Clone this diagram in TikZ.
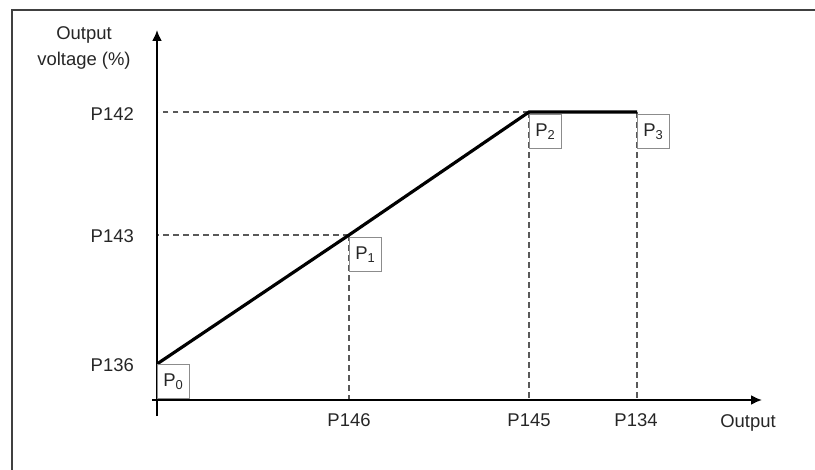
\documentclass[tikz,border=0pt]{standalone}
\usepackage{fontspec}
\setmainfont{Liberation Sans}
\usepackage{xcolor}
\usetikzlibrary{arrows.meta}
\definecolor{mytext}{gray}{0.15}
\definecolor{mygray}{gray}{0.35}
\definecolor{myboxgray}{gray}{0.55}
\definecolor{myframe}{gray}{0.25}
\begin{document}
\begin{tikzpicture}[x=0.02cm,y=-0.02cm,
every node/.style={text=mytext,font=\fontsize{10.5}{15.3}\selectfont},
axis/.style={line width=1.1pt,black},
guide/.style={mygray,line width=0.6pt,dash pattern=on 3.4pt off 2.3pt},
curve/.style={line width=1.8pt,black},
pbox/.style={draw=myboxgray,line width=0.6pt,anchor=north west,
  minimum width=0.64cm,minimum height=0.68cm,inner sep=0pt}]
\useasboundingbox (0,0) rectangle (815,470);
\draw [myframe, line width=1.2pt] (12,470) -- (12,10) -- (815,10);
% axes
\coordinate (O) at (157,400);
\coordinate (Ytop) at (157,30);
\coordinate (Ybot) at (157,416);
\coordinate (Xleft) at (152,400);
\coordinate (Xright) at (762,400);
% points of the curve
\coordinate (P0) at (157,364);
\coordinate (P1) at (349,235);
\coordinate (P2) at (529,112);
\coordinate (P3) at (637,112);
\draw [guide] (P1) -- (P1 -| O);
\draw [guide] (P1) -- (P1 |- O);
\draw [guide] (P2) -- (P2 -| O);
\draw [guide] (P2) -- (P2 |- O);
\draw [guide] (P3) -- (P3 |- O);
\draw [axis, -{Latex[length=2.2mm,width=2mm]}] (Ybot) -- (Ytop);
\draw [axis, -{Latex[length=2.2mm,width=2mm]}] (Xleft) -- (Xright);
\draw [curve] (P0) -- (P1) -- (P2) -- (P3);
\node[pbox] (b0) at (P0) {P\textsubscript{0}};
\node[pbox] (b1) at ([yshift=-1]P1) {P\textsubscript{1}};
\node[pbox] (b2) at ([yshift=-1]P2) {P\textsubscript{2}};
\node[pbox] (b3) at ([yshift=-1]P3) {P\textsubscript{3}};
% labels
\node[align=center] (ylab) at (84,48) {Output\\voltage (\%)};
\node[anchor=east] (l142) at (140,114) {P142};
\node[anchor=east] (l143) at (140,236) {P143};
\node[anchor=east] (l136) at (140,365) {P136};
\node (l146) at (349,420) {P146};
\node (l145) at (529,420) {P145};
\node (l134) at (636,420) {P134};
\node[anchor=base] (xlab) at (748,427) {Output};
\end{tikzpicture}
\end{document}
